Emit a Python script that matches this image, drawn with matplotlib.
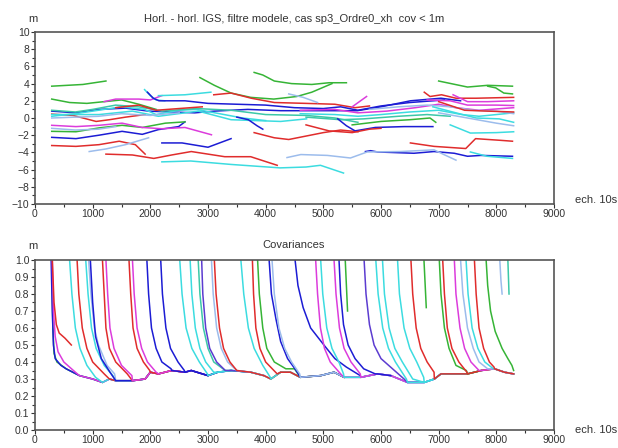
import matplotlib
matplotlib.use("Agg")
import matplotlib.pyplot as plt
import numpy as np

plt.rcParams["font.family"] = ["Liberation Sans", "DejaVu Sans"]

BLUE = "#1c1cd4"
GREEN = "#36b436"
RED = "#e02c2c"
MAG = "#dc3cdc"
CYAN = "#3cdce0"
LBLUE = "#9cbcec"
TEAL = "#3cc8a8"
PURP = "#5c3cd0"

# top panel: horizontal error per satellite pass (m)
top_lines = [
    [(290, 3.7), (830, 3.9), (1230, 4.3)],
    [(290, 2.2), (600, 1.8), (900, 1.7), (1200, 1.9), (1500, 2.1), (1800, 1.6), (2100, 1.0)],
    [(1200, 1.9), (1400, 2.2), (1800, 2.2), (2000, 2.1), (2200, 2.6)],
    [(1900, 3.3), (2000, 2.6), (2100, 2.1), (2250, 2.0)],
    [(2140, 2.6), (2600, 2.7), (3050, 3.0)],
    [(2860, 4.7), (3110, 3.8), (3400, 2.9), (3740, 2.4), (4140, 2.2), (4540, 2.5), (4800, 3.0), (5150, 4.0)],
    [(3800, 5.3), (3950, 5.0), (4150, 4.3), (4450, 4.0), (4800, 3.9), (5100, 4.1), (5400, 4.1)],
    [(3100, 2.7), (3400, 2.9), (3750, 2.3), (4150, 1.8), (4700, 1.7), (5200, 1.6), (5550, 1.2), (5800, 1.4)],
    [(3800, -1.7), (4150, -2.3), (4400, -2.5), (4700, -2.1), (5000, -1.7), (5300, -1.4), (5600, -1.6)],
    [(2200, -2.9), (2550, -2.9), (3000, -3.4), (3400, -2.4)],
    [(1230, -4.2), (1690, -4.3), (2060, -4.7), (2370, -4.3), (2710, -3.9), (3290, -4.5), (3740, -4.5), (4200, -5.5)],
    [(2200, -5.1), (2700, -5.0), (3400, -5.4), (4250, -5.8), (4700, -5.7), (4950, -5.5), (5350, -6.4)],
    [(290, -3.2), (710, -3.3), (1110, -3.1), (1460, -2.7), (1740, -3.1), (1910, -4.2)],
    [(940, -3.9), (1230, -3.6), (1570, -3.1), (1970, -2.3)],
    [(290, -2.25), (710, -2.4), (1110, -2.0), (1510, -1.55), (1860, -1.9), (2140, -1.35), (2490, -1.0), (2600, -0.45)],
    [(290, -1.55), (710, -1.6), (1110, -1.15), (1510, -0.85), (1860, -1.1), (2260, -0.6), (2600, -0.45)],
    [(290, -0.85), (710, -1.0), (1110, -0.85), (1510, -0.6), (1860, -1.1), (2200, -1.25), (2600, -1.1), (3060, -1.95)],
    [(290, -1.2), (700, -1.4), (1100, -1.3), (1400, -1.0)],
    [(290, 0.45), (660, 0.3), (1060, -0.4), (1290, -0.2), (1570, 0.1), (1910, 0.4)],
    [(290, 0.8), (710, 0.6), (1110, 1.0), (1570, 1.15), (1970, 0.8), (2370, 0.7), (2770, 0.6), (3110, 0.8),
     (3690, 1.0), (4260, 0.85), (4710, 0.85), (5590, 0.85), (6000, 1.3), (6510, 2.0), (7040, 2.3), (7380, 2.0)],
    [(290, 0.4), (1110, 0.4), (1690, 0.8), (2140, 0.2), (2830, 0.8), (3400, -0.2), (4260, -0.4), (4710, -0.1)],
    [(290, 0.2), (700, 0.5), (1100, 0.9), (1500, 1.3), (1900, 1.0), (2100, 0.4), (2500, 0.9), (2800, 1.0),
     (3200, 0.5), (3600, 0.0), (4000, -0.3)],
    [(290, 0.9), (700, 0.7), (1000, 1.0), (1400, 1.5), (1800, 1.3), (2200, 0.8), (2800, 1.1), (3400, 0.9),
     (4000, 0.4), (4700, 0.3), (5200, 0.0), (5600, -0.5)],
    [(290, 0.0), (700, 0.1), (1100, 0.2), (1500, 0.5), (2000, 0.3), (2500, 0.6)],
    [(1400, 1.2), (1800, 1.5), (2100, 0.9), (2500, 1.1), (2900, 1.3)],
    [(4400, 2.8), (4650, 2.4), (4900, 1.8)],
    [(3500, 0.1), (3700, -0.2), (3850, -0.9), (3950, -1.3)],
    [(1950, 3.0), (2050, 2.3), (2150, 2.0), (2600, 2.0), (3000, 1.7), (3500, 1.6), (4000, 1.5), (4500, 1.2),
     (5000, 1.1), (5300, 1.3), (5600, 0.9), (6000, 1.4), (6500, 1.8), (6900, 2.0), (7100, 2.1)],
    [(4600, 0.9), (5200, 1.0), (5600, 0.6), (6100, 0.8), (6600, 1.2), (7000, 1.6), (7300, 1.2), (7700, 0.9), (8300, 1.2)],
    [(4600, 0.5), (5200, 0.4), (5600, 0.2), (6000, 0.4), (6500, 0.7), (7000, 0.9), (7400, 0.4), (7700, 0.2), (8300, 0.6)],
    [(4700, 0.1), (5300, -0.2), (5700, -0.1), (6300, 0.2), (6800, 0.4), (7200, 0.2)],
    [(5800, 1.0), (6300, 1.3), (6800, 1.5), (7200, 1.3), (7600, 0.9), (8000, 0.8), (8300, 0.5)],
    [(5500, -0.8), (6000, -0.4), (6500, -0.2), (6850, 0.0), (6950, -0.5)],
    [(5250, -0.1), (5400, -0.9), (5550, -1.5), (5900, -1.1), (6400, -1.0), (6900, -1.0)],
    [(4700, -0.8), (5100, -1.5), (5500, -1.7), (5800, -1.3), (6000, -1.2)],
    [(5500, 1.3), (5750, 2.5)],
    [(7000, 4.3), (7500, 3.6), (7850, 3.8), (8280, 3.7)],
    [(7850, 3.7), (7990, 3.5), (8130, 2.9), (8280, 2.8)],
    [(6750, 3.0), (6850, 2.5), (7050, 2.7), (7300, 2.3), (7650, 2.3), (8300, 2.4)],
    [(7250, 2.7), (7500, 1.9), (7850, 1.9), (8300, 2.0)],
    [(6800, 2.1), (7200, 2.0), (7500, 1.5), (8000, 1.5), (8300, 1.45)],
    [(7000, 1.9), (7450, 0.9), (7850, 0.8), (8300, 0.7)],
    [(6900, 1.3), (7300, 0.6), (7650, 0.0), (8050, -0.1), (8300, -0.5)],
    [(7200, -0.8), (7550, -1.75), (8000, -1.7), (8300, -1.6)],
    [(7000, 0.6), (7500, 0.0), (8000, -0.6), (8300, -0.9)],
    [(6510, -2.9), (6920, -3.3), (7470, -3.55), (7640, -2.4), (8080, -2.6), (8280, -2.7)],
    [(5730, -3.9), (5820, -3.8), (5940, -3.95), (6570, -4.1), (6920, -3.9), (7270, -4.1), (7500, -4.45),
     (7730, -4.35), (8280, -4.45)],
    [(7550, -3.95), (7840, -4.45), (8280, -4.7)],
    [(4370, -4.6), (4610, -4.25), (5070, -4.35), (5470, -4.65), (5760, -3.95), (6340, -3.9), (6920, -3.7),
     (7090, -4.25), (7300, -4.9)],
]
top_colors = [
    GREEN, GREEN, MAG, CYAN, CYAN, GREEN, GREEN, RED, RED, BLUE, RED, CYAN, RED, LBLUE, BLUE, GREEN, MAG,
    LBLUE, RED, BLUE, CYAN, CYAN, TEAL, LBLUE, RED, LBLUE, BLUE, BLUE, MAG, CYAN, TEAL, LBLUE, GREEN,
    BLUE, RED, MAG, GREEN, GREEN, RED, MAG, MAG, RED, CYAN, CYAN, LBLUE, RED, BLUE, CYAN, LBLUE,
]

# bottom panel: covariance floor shared by all passes
floor_x = [300, 400, 540, 770, 1000, 1170, 1290, 1400, 1690, 1910, 2000, 2140, 2370, 2600, 2710, 3000,
           3170, 3400, 3740, 3970, 4090, 4260, 4430, 4600, 4954, 5186, 5360, 5650, 5940, 6170, 6460,
           6750, 6925, 7040, 7270, 7500, 7740, 7970, 8140, 8300]
floor_y = [0.40, 0.40, 0.36, 0.32, 0.30, 0.28, 0.30, 0.29, 0.29, 0.30, 0.34, 0.33, 0.35, 0.34, 0.35, 0.32,
           0.34, 0.35, 0.34, 0.32, 0.30, 0.34, 0.34, 0.31, 0.32, 0.34, 0.31, 0.31, 0.33, 0.32, 0.28,
           0.28, 0.30, 0.33, 0.33, 0.33, 0.35, 0.36, 0.34, 0.33]

# bottom panel: descent of each pass from 1 m down to the floor
cov_drops = [
    [(290, 1.0), (310, 0.6), (330, 0.45), (380, 0.40), (500, 0.37)],
    [(280, 1.0), (300, 0.7), (320, 0.5), (350, 0.42), (450, 0.38)],
    [(300, 1.0), (320, 0.7), (350, 0.55), (400, 0.46), (500, 0.40), (700, 0.34)],
    [(300, 1.0), (330, 0.75), (370, 0.62), (420, 0.57), (520, 0.54), (630, 0.50)],
    [(600, 1.0), (640, 0.8), (700, 0.6), (780, 0.48), (900, 0.38), (1050, 0.31)],
    [(730, 1.0), (760, 0.8), (820, 0.6), (900, 0.48), (1000, 0.40), (1200, 0.33)],
    [(880, 1.0), (920, 0.8), (980, 0.6), (1060, 0.48), (1200, 0.38), (1350, 0.32)],
    [(930, 1.0), (970, 0.8), (1030, 0.6), (1100, 0.5), (1250, 0.38), (1380, 0.33)],
    [(960, 1.0), (1000, 0.75), (1050, 0.55), (1150, 0.42), (1300, 0.34)],
    [(1170, 1.0), (1200, 0.8), (1230, 0.6), (1290, 0.48), (1400, 0.40), (1600, 0.33)],
    [(1230, 1.0), (1260, 0.8), (1300, 0.6), (1370, 0.48), (1500, 0.38), (1680, 0.32)],
    [(1630, 1.0), (1660, 0.8), (1700, 0.6), (1770, 0.48), (1880, 0.40), (1990, 0.35)],
    [(1690, 1.0), (1720, 0.8), (1770, 0.6), (1850, 0.48), (1950, 0.40), (2100, 0.34)],
    [(1940, 1.0), (1970, 0.8), (2020, 0.6), (2100, 0.48), (2200, 0.40), (2360, 0.36)],
    [(2180, 1.0), (2210, 0.8), (2270, 0.6), (2350, 0.48), (2480, 0.40), (2590, 0.35)],
    [(2510, 1.0), (2550, 0.8), (2620, 0.6), (2720, 0.48), (2850, 0.40), (2990, 0.33)],
    [(2690, 1.0), (2720, 0.8), (2780, 0.6), (2860, 0.48), (2960, 0.40), (3100, 0.34)],
    [(2830, 1.0), (2860, 0.8), (2920, 0.6), (3000, 0.48), (3100, 0.40), (3300, 0.35)],
    [(2890, 1.0), (2910, 0.8), (2960, 0.6), (3030, 0.48), (3150, 0.40), (3300, 0.35)],
    [(3060, 1.0), (3090, 0.8), (3150, 0.6), (3230, 0.48), (3340, 0.40), (3500, 0.35)],
    [(3110, 1.0), (3140, 0.8), (3200, 0.6), (3270, 0.48), (3380, 0.40), (3500, 0.35)],
    [(3570, 1.0), (3620, 0.8), (3700, 0.6), (3800, 0.48), (3950, 0.38), (4080, 0.31)],
    [(3770, 1.0), (3790, 0.8), (3830, 0.6), (3900, 0.48), (4000, 0.40), (4200, 0.33)],
    [(3860, 1.0), (3890, 0.8), (3950, 0.6), (4020, 0.48), (4150, 0.40), (4350, 0.36), (4500, 0.36)],
    [(4060, 1.0), (4100, 0.8), (4180, 0.65), (4260, 0.52), (4380, 0.42), (4550, 0.34)],
    [(4110, 1.0), (4150, 0.8), (4230, 0.6), (4330, 0.48), (4450, 0.40), (4590, 0.33)],
    [(4510, 1.0), (4560, 0.85), (4650, 0.72), (4780, 0.6), (5010, 0.5), (5200, 0.42), (5400, 0.37), (5640, 0.32)],
    [(4867, 1.0), (4900, 0.8), (4950, 0.6), (5020, 0.48), (5120, 0.40), (5300, 0.33)],
    [(4954, 1.0), (4990, 0.8), (5060, 0.6), (5150, 0.48), (5270, 0.40), (5350, 0.33)],
    [(5186, 1.0), (5220, 0.8), (5280, 0.6), (5360, 0.48), (5480, 0.40), (5640, 0.33)],
    [(5272, 1.0), (5300, 0.8), (5350, 0.62), (5430, 0.5), (5550, 0.42), (5700, 0.36), (5900, 0.33)],
    [(5380, 1.0), (5400, 0.85), (5420, 0.7)],
    [(5707, 1.0), (5740, 0.8), (5800, 0.62), (5880, 0.5), (6000, 0.42), (6200, 0.36), (6400, 0.30)],
    [(5910, 1.0), (5950, 0.8), (6030, 0.6), (6130, 0.48), (6250, 0.40), (6440, 0.30)],
    [(6026, 1.0), (6060, 0.8), (6140, 0.6), (6240, 0.48), (6370, 0.40), (6550, 0.30)],
    [(6287, 1.0), (6320, 0.8), (6400, 0.6), (6500, 0.48), (6620, 0.40), (6740, 0.31)],
    [(6519, 1.0), (6550, 0.8), (6610, 0.6), (6690, 0.48), (6800, 0.40), (6920, 0.34)],
    [(6745, 1.0), (6785, 0.72)],
    [(7011, 1.0), (7040, 0.8), (7100, 0.6), (7180, 0.48), (7300, 0.38), (7480, 0.35)],
    [(7070, 1.0), (7100, 0.8), (7150, 0.6), (7230, 0.48), (7350, 0.40), (7490, 0.34)],
    [(7272, 1.0), (7300, 0.8), (7370, 0.6), (7450, 0.48), (7560, 0.40), (7700, 0.35)],
    [(7380, 1.0), (7420, 0.8), (7500, 0.6), (7600, 0.48), (7700, 0.40), (7850, 0.36)],
    [(7475, 1.0), (7510, 0.8), (7580, 0.6), (7680, 0.48), (7800, 0.40), (7950, 0.36)],
    [(7620, 1.0), (7650, 0.8), (7700, 0.6), (7780, 0.48), (7880, 0.40), (7960, 0.37)],
    [(7823, 1.0), (7850, 0.85), (7900, 0.7), (7980, 0.58), (8100, 0.48), (8200, 0.42), (8270, 0.38), (8300, 0.35)],
    [(8060, 1.0), (8080, 0.88), (8100, 0.8)],
    [(8200, 1.0), (8210, 0.9), (8220, 0.8)],
]
cov_end = [1200, 2100, 1500, 630, 2100, 1700, 2400, 2000, 3000, 2600, 2200, 3200, 2800, 4000, 3500, 4300,
           4000, 4600, 3800, 4200, 5000, 5500, 5600, 5400, 6000, 5800, 7000, 6500, 6800, 7200, 6300, 5420,
           7500, 7800, 8000, 8300, 8300, 6785, 7800, 8300, 8300, 8300, 8300, 8300, 8300, 8100, 8220]
cov_colors = [GREEN, BLUE, MAG, RED, CYAN, RED, CYAN, LBLUE, BLUE, RED, MAG, RED, MAG, BLUE, BLUE, CYAN,
              CYAN, TEAL, PURP, LBLUE, RED, CYAN, RED, GREEN, BLUE, LBLUE, BLUE, MAG, CYAN, MAG, BLUE,
              GREEN, PURP, CYAN, CYAN, CYAN, RED, GREEN, GREEN, RED, MAG, LBLUE, CYAN, RED, GREEN,
              LBLUE, TEAL]

W, H = 618, 448
fig = plt.figure(figsize=(W / 100, H / 100), dpi=100)
ax1 = fig.add_axes([35 / W, 1 - 204 / H, 519 / W, 172 / H])
ax2 = fig.add_axes([35 / W, 1 - 430 / H, 519 / W, 170 / H])

for pts, c in zip(top_lines, top_colors):
    xs, ys = zip(*pts)
    ax1.plot(xs, ys, color=c, lw=1.1)

for pts, c, end in zip(cov_drops, cov_colors, cov_end):
    tail = [(fx, fy) for fx, fy in zip(floor_x, floor_y) if pts[-1][0] < fx <= end]
    xs, ys = zip(*(pts + tail))
    ax2.plot(xs, ys, color=c, lw=1.1)

for ax in (ax1, ax2):
    ax.set_xlim(0, 9000)
    ax.set_xticks(np.arange(0, 9001, 1000))
    ax.set_xticks(np.arange(500, 9000, 1000), minor=True)
    ax.tick_params(which="both", direction="out", top=False, right=False,
                   labelsize=7.5, width=0.8, colors="#333333", pad=1)
    ax.tick_params(which="major", length=3)
    ax.tick_params(which="minor", length=2)
    ax.tick_params(axis="x", pad=0.5)
    for s in ax.spines.values():
        s.set_color("#555555")
        s.set_linewidth(1.2)

ax1.set_ylim(-10, 10)
ax1.set_yticks(np.arange(-10, 11, 2))
ax1.set_yticks(np.arange(-9, 10, 2), minor=True)

ax2.set_ylim(0, 1)
ax2.set_yticks(np.arange(0, 1.01, 0.1))
ax2.set_yticklabels([f"{v:.1f}" for v in np.arange(0, 1.01, 0.1)])
ax2.set_yticks(np.arange(0.05, 1, 0.1), minor=True)

tc = "#333333"
fig.text(33 / W, 1 - 19 / H, "m", ha="center", va="center", fontsize=8, color=tc)
fig.text(294 / W, 1 - 19 / H, "Horl. - horl. IGS, filtre modele, cas sp3_Ordre0_xh  cov < 1m",
         ha="center", va="center", fontsize=8, color=tc)
fig.text(575 / W, 1 - 200 / H, "ech. 10s", ha="left", va="center", fontsize=8, color=tc)
fig.text(33 / W, 1 - 246 / H, "m", ha="center", va="center", fontsize=8, color=tc)
fig.text(294 / W, 1 - 245 / H, "Covariances", ha="center", va="center", fontsize=8, color=tc)
fig.text(575 / W, 1 - 430 / H, "ech. 10s", ha="left", va="center", fontsize=8, color=tc)

fig.savefig("out.png", dpi=100)
